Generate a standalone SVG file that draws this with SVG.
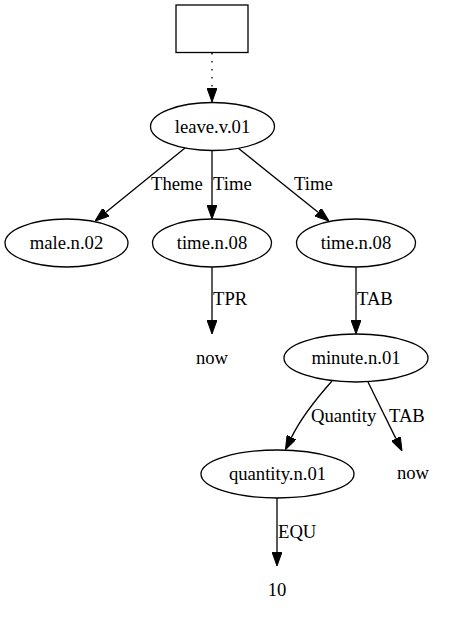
<svg xmlns="http://www.w3.org/2000/svg" width="455" height="620" viewBox="0 0 455 620">
  <style>
    .node ellipse, .node rect { fill: #ffffff; stroke: #000000; stroke-width: 1.3; }
    text { font-family: "Liberation Serif", "Times New Roman", serif; font-size: 18.67px; fill: #000000; }
    .node text { text-anchor: middle; }
    .edge { fill: none; stroke: #000000; stroke-width: 1.3; marker-end: url(#arrow); }
    .dotted { stroke-dasharray: 1.5 6.5; }
  </style>
  <defs>
    <marker id="arrow" viewBox="0 0 14 10" refX="0" refY="5" markerWidth="14" markerHeight="10" markerUnits="userSpaceOnUse" orient="auto">
      <path d="M0,0 L14,5 L0,10 Z" fill="#000000" stroke="#000000" stroke-width="1"/>
    </marker>
  </defs>
  <rect width="455" height="620" fill="#ffffff"/>

  <!-- connectors -->
  <g id="edges">
    <path class="edge dotted" d="M212,53 L212,88"/>
    <path class="edge" d="M185,148 L105.9,212.2"/>
    <path class="edge" d="M212,150.5 L212,205"/>
    <path class="edge" d="M238,148 L318.1,212.2"/>
    <path class="edge" d="M212,267 L212,320"/>
    <path class="edge" d="M356,267 L356,320"/>
    <path class="edge" d="M332,381 C316,399 300,420 291.6,437.1"/>
    <path class="edge" d="M368,382 L395.8,438.4"/>
    <path class="edge" d="M277,498 L277,552"/>

    <text x="151" y="190">Theme</text>
    <text x="213" y="190">Time</text>
    <text x="294" y="190">Time</text>
    <text x="213" y="305">TPR</text>
    <text x="357" y="305">TAB</text>
    <text x="311" y="422">Quantity</text>
    <text x="389" y="422">TAB</text>
    <text x="278" y="538">EQU</text>
  </g>

  <!-- nodes -->
  <g id="root" class="node">
    <rect x="176" y="5" width="72" height="47.5"/>
  </g>
  <g id="leave_v_01" class="node">
    <ellipse cx="212.5" cy="126.5" rx="62" ry="24"/>
    <text x="212.5" y="132.5">leave.v.01</text>
  </g>
  <g id="male_n_02" class="node">
    <ellipse cx="66.5" cy="243" rx="61.5" ry="24"/>
    <text x="66.5" y="249">male.n.02</text>
  </g>
  <g id="time_n_08_a" class="node">
    <ellipse cx="212" cy="243" rx="59.5" ry="24"/>
    <text x="212" y="249">time.n.08</text>
  </g>
  <g id="time_n_08_b" class="node">
    <ellipse cx="356" cy="243" rx="59.5" ry="24"/>
    <text x="356" y="249">time.n.08</text>
  </g>
  <g id="now_a" class="node">
    <text x="212" y="364">now</text>
  </g>
  <g id="minute_n_01" class="node">
    <ellipse cx="356" cy="358" rx="72" ry="24"/>
    <text x="356" y="364">minute.n.01</text>
  </g>
  <g id="quantity_n_01" class="node">
    <ellipse cx="277.5" cy="474" rx="76.5" ry="24"/>
    <text x="277.5" y="480">quantity.n.01</text>
  </g>
  <g id="now_b" class="node">
    <text x="413" y="479">now</text>
  </g>
  <g id="ten" class="node">
    <text x="277" y="596">10</text>
  </g>
</svg>
